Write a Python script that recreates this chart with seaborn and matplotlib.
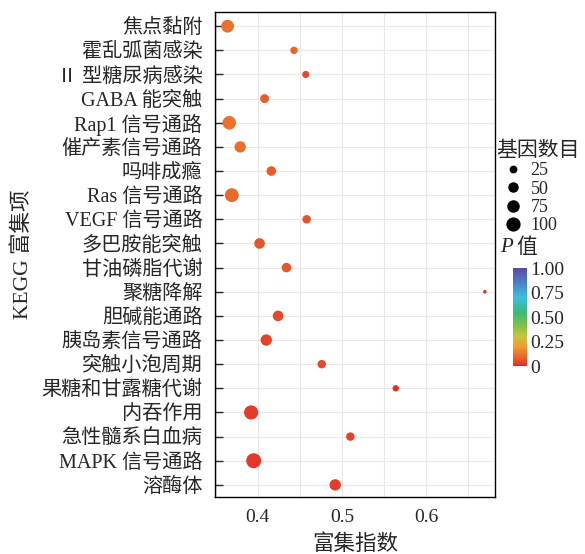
import numpy as np
import pandas as pd
import seaborn as sns
import matplotlib.pyplot as plt
from matplotlib.colors import LinearSegmentedColormap, Normalize
from matplotlib.cm import ScalarMappable
from matplotlib.lines import Line2D
from matplotlib.ticker import MultipleLocator

pathways = ["焦点黏附", "霍乱弧菌感染", "Ⅱ 型糖尿病感染", "GABA 能突触", "Rap1 信号通路",
            "催产素信号通路", "吗啡成瘾", "Ras 信号通路", "VEGF 信号通路", "多巴胺能突触",
            "甘油磷脂代谢", "聚糖降解", "胆碱能通路", "胰岛素信号通路", "突触小泡周期",
            "果糖和甘露糖代谢", "内吞作用", "急性髓系白血病", "MAPK 信号通路", "溶酶体"]
rich_factor = [0.364, 0.443, 0.457, 0.408, 0.366, 0.379, 0.416, 0.369, 0.458, 0.402,
               0.434, 0.670, 0.424, 0.410, 0.476, 0.564, 0.392, 0.510, 0.395, 0.492]
gene_count = [100, 34, 31, 48, 112, 79, 56, 117, 44, 69,
              56, 8, 69, 79, 44, 25, 123, 44, 136, 79]
p_value = [0.12, 0.09, 0.05, 0.08, 0.12, 0.11, 0.08, 0.10, 0.06, 0.07,
           0.07, 0.01, 0.05, 0.04, 0.05, 0.01, 0.03, 0.04, 0.02, 0.03]
legend_counts = [25, 50, 75, 100]
cbar_ticks = [0, 0.25, 0.5, 0.75, 1.0]
cbar_labels = ["0", "0.25", "0.50", "0.75", "1.00"]

df = pd.DataFrame({"pathway": pathways, "rich": rich_factor,
                   "count": gene_count, "p": p_value})

sns.set_style("white")
plt.rcParams["font.family"] = ["Liberation Serif", "Noto Sans CJK SC"]

cmap = LinearSegmentedColormap.from_list("pcol", [
    (0.0, "#e02a2a"), (0.1, "#ea6a2a"), (0.2, "#f09a30"), (0.3, "#c8c43a"), (0.42, "#7cc04a"),
    (0.55, "#3cb878"), (0.7, "#3cc0e0"), (0.85, "#4a80c8"), (1.0, "#5a4aa0")])

area_per_gene = 0.85  # pt^2 per gene
fig = plt.figure(figsize=(5.85, 5.54), dpi=100)
ax = fig.add_axes([0.3675, 0.103, 0.4786, 0.875])

sns.scatterplot(data=df, x="rich", y="pathway", hue="p", palette=cmap, hue_norm=(0, 1),
                size="count", sizes=(0, 150 * area_per_gene), size_norm=(0, 150),
                linewidth=0, legend=False, ax=ax)

ax.set_xlim(0.349, 0.682)
ax.set_ylim(19.5, -0.58)
ax.xaxis.set_major_locator(MultipleLocator(0.1))
ax.xaxis.set_minor_locator(MultipleLocator(0.05))
ax.grid(True, which="both", color="#e8e8e8", lw=0.8)
ax.set_axisbelow(True)
ax.tick_params(axis="x", which="both", direction="in", length=6, width=1, labelsize=14, pad=9)
ax.tick_params(axis="y", direction="in", length=6, width=1, labelsize=14.5, pad=9, left=True)
ax.set_xticklabels([f"{t:g}" if abs(t * 10 - round(t * 10)) < 1e-6 else "" for t in ax.get_xticks()])
for s in ax.spines.values():
    s.set_color("black")
    s.set_linewidth(1)
ax.set_xlabel("富集指数", fontsize=15.5, labelpad=6)
ax.set_ylabel("KEGG 富集项", fontsize=15.5, labelpad=6)

handles = [Line2D([], [], marker="o", ls="", color="black",
                  markersize=np.sqrt(c * area_per_gene)) for c in legend_counts]
leg = fig.legend(handles, [str(c) for c in legend_counts], title="基因数目",
                 loc="upper left", bbox_to_anchor=(0.848, 0.745), frameon=False,
                 fontsize=13, title_fontsize=15, handletextpad=0.0,
                 labelspacing=0.08, borderpad=0, handlelength=1.9, borderaxespad=0)
leg._legend_box.align = "left"

fig.text(0.855, 1 - 248 / 554, "P", fontsize=15, style="italic", va="center", ha="left")
fig.text(0.882, 1 - 248 / 554, "值", fontsize=15, va="center", ha="left")
cax = fig.add_axes([0.877, 0.339, 0.024, 0.177])
cb = fig.colorbar(ScalarMappable(norm=Normalize(0, 1), cmap=cmap), cax=cax)
cb.outline.set_visible(False)
cb.set_ticks(cbar_ticks)
cb.set_ticklabels(cbar_labels)
cax.tick_params(length=0, labelsize=14, pad=2)

fig.savefig("out.png", dpi=100)
